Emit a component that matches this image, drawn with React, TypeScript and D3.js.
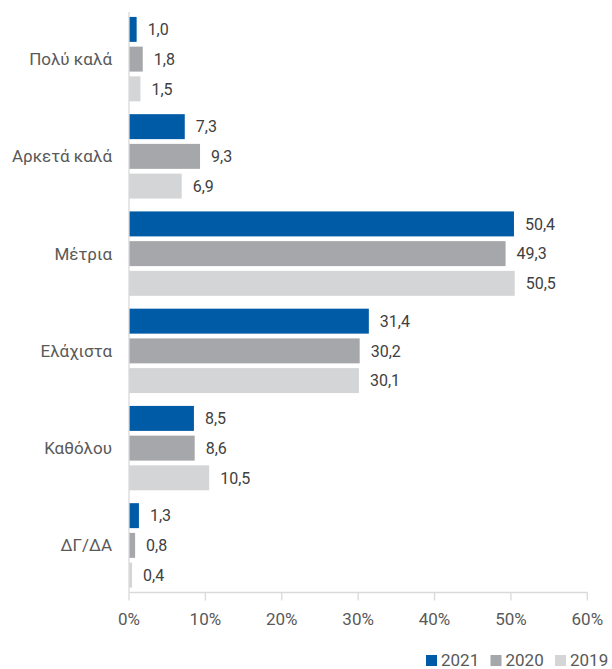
import React from "react";
import * as d3 from "d3";

const categories = ["Πολύ καλά", "Αρκετά καλά", "Μέτρια", "Ελάχιστα", "Καθόλου", "ΔΓ/ΔΑ"];
const seriesNames = ["2021", "2020", "2019"];
const values2021 = [1.0, 7.3, 50.4, 31.4, 8.5, 1.3];
const values2020 = [1.8, 9.3, 49.3, 30.2, 8.6, 0.8];
const values2019 = [1.5, 6.9, 50.5, 30.1, 10.5, 0.4];
const xTicks = [0, 10, 20, 30, 40, 50, 60];

const seriesValues = [values2021, values2020, values2019];
const colors = ["#005BA6", "#A6A7AA", "#D4D5D7"];

const W = 612;
const H = 669;
const FONT = "Roboto, 'Noto Sans', sans-serif";

export default function App() {
  const x = d3.scaleLinear().domain([0, 60]).range([129, 587.3]);
  const y0 = d3
    .scaleBand<string>()
    .domain(categories)
    .range([10.5, 594])
    .paddingInner(0.132)
    .paddingOuter(0.066);
  const y1 = d3
    .scaleBand<string>()
    .domain(seriesNames)
    .range([0, y0.bandwidth()])
    .paddingInner(0.16)
    .paddingOuter(0);
  const axisY = 592.5;
  const fmt = (v: number) => v.toFixed(1).replace(".", ",");

  return (
    <svg
      width={W}
      height={H}
      style={{ position: "absolute", left: 0, top: 0, background: "#fff" }}
      fontFamily={FONT}
    >
      {categories.map((cat, ci) => (
        <g key={cat} transform={`translate(0,${y0(cat)})`}>
          {seriesNames.map((s, si) => {
            const v = seriesValues[si][ci];
            const yy = y1(s)!;
            return (
              <g key={s}>
                <rect
                  x={x(0)}
                  y={yy}
                  width={x(v) - x(0)}
                  height={y1.bandwidth()}
                  fill={colors[si]}
                />
                <text
                  x={x(v) + 11}
                  y={yy + y1.bandwidth() / 2}
                  dy="0.36em"
                  fontSize={16}
                  fill="#404040"
                >
                  {fmt(v)}
                </text>
              </g>
            );
          })}
          <text
            x={112}
            y={y0.bandwidth() / 2}
            dy="0.36em"
            textAnchor="end"
            fontSize={17}
            fill="#595959"
          >
            {cat}
          </text>
        </g>
      ))}
      <line x1={x(0)} x2={x(0)} y1={12} y2={axisY} stroke="#D9D9D9" strokeWidth={1.3} />
      <line x1={x(0)} x2={x(60)} y1={axisY} y2={axisY} stroke="#D9D9D9" strokeWidth={1.3} />
      {xTicks.map((t) => (
        <g key={t}>
          <line x1={x(t)} x2={x(t)} y1={axisY} y2={axisY + 8} stroke="#D9D9D9" strokeWidth={1.3} />
          <text x={x(t)} y={625} textAnchor="middle" fontSize={17} fill="#595959">
            {t}%
          </text>
        </g>
      ))}
      {seriesNames.map((s, si) => {
        const lx = 426 + si * 64.5;
        return (
          <g key={s}>
            <rect x={lx} y={655} width={11} height={11} fill={colors[si]} />
            <text x={lx + 15} y={666} fontSize={17} fill="#595959">
              {s}
            </text>
          </g>
        );
      })}
    </svg>
  );
}
